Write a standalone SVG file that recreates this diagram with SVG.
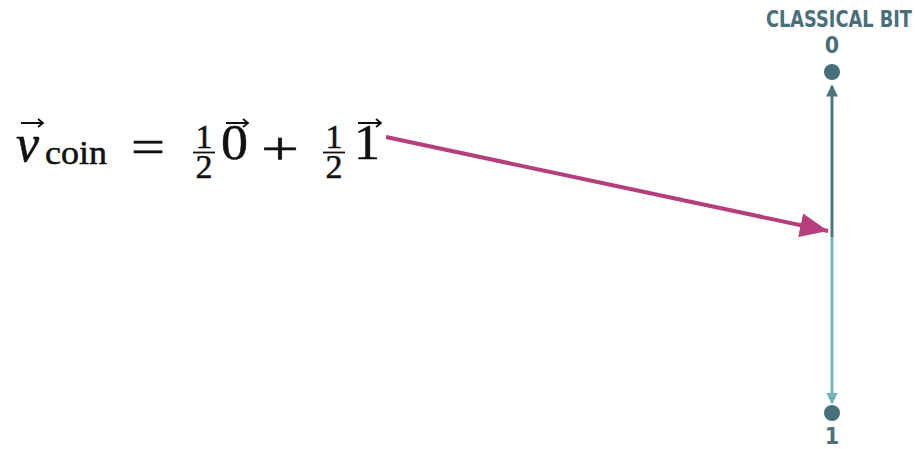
<svg xmlns="http://www.w3.org/2000/svg" width="919" height="449" viewBox="0 0 919 449">
<style>
.m{font-family:"Liberation Serif","DejaVu Serif",serif;fill:#111;stroke:#111;stroke-width:0.5}
.lab{font-family:"DejaVu Sans Condensed","DejaVu Sans",sans-serif;font-weight:bold;fill:#4b6f79}
.vec{stroke:#111;stroke-width:1.8;fill:none}
</style>
<defs>
<marker id="mag" markerWidth="8" markerHeight="6" refX="7" refY="3" orient="auto" markerUnits="strokeWidth"><path d="M0,0 L7,3 L0,6 z" fill="#b43f7c"/></marker>
<marker id="up" markerWidth="4" markerHeight="4" refX="3.5" refY="2" orient="auto" markerUnits="strokeWidth"><path d="M0,0 L4,2 L0,4 z" fill="#4e747e"/></marker>
<marker id="dn" markerWidth="4" markerHeight="4" refX="3.5" refY="2" orient="auto" markerUnits="strokeWidth"><path d="M0,0 L4,2 L0,4 z" fill="#74b3b6"/></marker>
</defs>
<g id="equation">
<text class="m" x="16" y="161" font-size="52" font-style="italic">v</text>
<path class="vec" d="M21,123 H42 M38,119 L43,123 L38,127"/>
<text class="m" x="45" y="164" font-size="34" textLength="62" lengthAdjust="spacingAndGlyphs">coin</text>
<text class="m" x="131" y="162" font-size="46" textLength="34" lengthAdjust="spacingAndGlyphs">=</text>
<text class="m" x="204" y="148" font-size="34" text-anchor="middle">1</text>
<line x1="193" y1="152.5" x2="215" y2="152.5" stroke="#111" stroke-width="1.8"/>
<text class="m" x="204" y="178" font-size="34" text-anchor="middle">2</text>
<text class="m" x="221" y="159" font-size="50" textLength="27" lengthAdjust="spacingAndGlyphs">0</text>
<path class="vec" d="M226,123 H247 M243,119 L248,123 L243,127"/>
<text class="m" x="261" y="164" font-size="46" textLength="38" lengthAdjust="spacingAndGlyphs">+</text>
<text class="m" x="334" y="148" font-size="34" text-anchor="middle">1</text>
<line x1="323" y1="152.5" x2="345" y2="152.5" stroke="#111" stroke-width="1.8"/>
<text class="m" x="334" y="178" font-size="34" text-anchor="middle">2</text>
<text class="m" x="354" y="159" font-size="50" textLength="26" lengthAdjust="spacingAndGlyphs">1</text>
<path class="vec" d="M358,123 H380 M376,119 L381,123 L376,127"/>
</g>
<g id="classical-bit">
<text class="lab" x="839" y="27" font-size="23" text-anchor="middle" textLength="146" lengthAdjust="spacingAndGlyphs">CLASSICAL BIT</text>
<text class="lab" x="832" y="53" font-size="23" text-anchor="middle">0</text>
<circle id="dot0" cx="832" cy="72" r="8" fill="#466f79"/>
<circle id="dot1" cx="832" cy="413" r="8" fill="#466f79"/>
<text class="lab" x="832" y="444" font-size="23" text-anchor="middle">1</text>
</g>
<g id="connectors">
<line x1="832" y1="237" x2="832" y2="86" stroke="#4e747e" stroke-width="3" marker-end="url(#up)"/>
<line x1="832" y1="237" x2="832" y2="403" stroke="#74b3b6" stroke-width="3" marker-end="url(#dn)"/>
<line x1="386" y1="137" x2="828" y2="231" stroke="#b43f7c" stroke-width="4" marker-end="url(#mag)"/>
</g>
</svg>
